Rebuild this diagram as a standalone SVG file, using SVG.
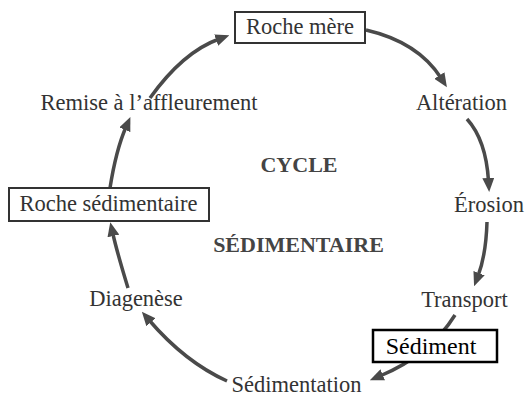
<svg xmlns="http://www.w3.org/2000/svg" width="526" height="398" viewBox="0 0 526 398">
<style>
.lbl{font-family:"Liberation Serif","Times New Roman",serif;font-size:22.5px;fill:#333;text-anchor:middle}
.ttl{font-family:"Liberation Serif","Times New Roman",serif;font-size:22px;font-weight:bold;fill:#444;text-anchor:middle}
.box{fill:#fff;stroke:#333;stroke-width:2}
.arr{fill:none;stroke:#4a4a4a;stroke-width:3.5;marker-end:url(#ah)}
</style>
<defs>
<marker id="ah" markerUnits="userSpaceOnUse" markerWidth="14" markerHeight="12" refX="3" refY="6" orient="auto">
<path d="M0,0 L14,6 L0,12 z" fill="#4a4a4a"/>
</marker>
</defs>
<rect width="526" height="398" fill="#fff"/>
<g id="connectors">
<path class="arr" d="M366,30 Q418,42 441,78"/>
<path class="arr" d="M467,119 Q486,140 488.5,181"/>
<path class="arr" d="M487,222 Q486,255 478,276"/>
<path class="arr" d="M455,315 Q430,355 380,376"/>
<path class="arr" d="M227,381 Q185,362 149,320"/>
<path class="arr" d="M128,288 Q117,252 112.7,233"/>
<path class="arr" d="M110,188 Q116,150 126,127"/>
<path class="arr" d="M150,98 Q183,52 219,39"/>
</g>
<g id="roche-mere">
<rect class="box" x="235" y="12" width="130" height="31"/>
<text class="lbl" x="300" y="34">Roche mère</text>
</g>
<g id="alteration"><text class="lbl" x="461.5" y="110">Altération</text></g>
<g id="erosion"><text class="lbl" x="489" y="212">Érosion</text></g>
<g id="transport"><text class="lbl" x="464.5" y="307">Transport</text></g>
<g id="sediment">
<rect x="373" y="330" width="124" height="32" fill="#fff" stroke="#000" stroke-width="2.5"/>
<text x="431" y="354" font-family="'Liberation Serif','Times New Roman',serif" font-size="24" fill="#000" text-anchor="middle">Sédiment</text>
</g>
<g id="sedimentation"><text class="lbl" x="296.5" y="392">Sédimentation</text></g>
<g id="diagenese"><text class="lbl" x="136" y="306">Diagenèse</text></g>
<g id="roche-sedimentaire">
<rect class="box" x="9" y="188" width="200" height="33"/>
<text class="lbl" x="108.5" y="211">Roche sédimentaire</text>
</g>
<g id="remise"><text class="lbl" x="149" y="110">Remise à l’affleurement</text></g>
<g id="titre">
<text class="ttl" x="299" y="172">CYCLE</text>
<text class="ttl" x="298.5" y="252">SÉDIMENTAIRE</text>
</g>
</svg>
